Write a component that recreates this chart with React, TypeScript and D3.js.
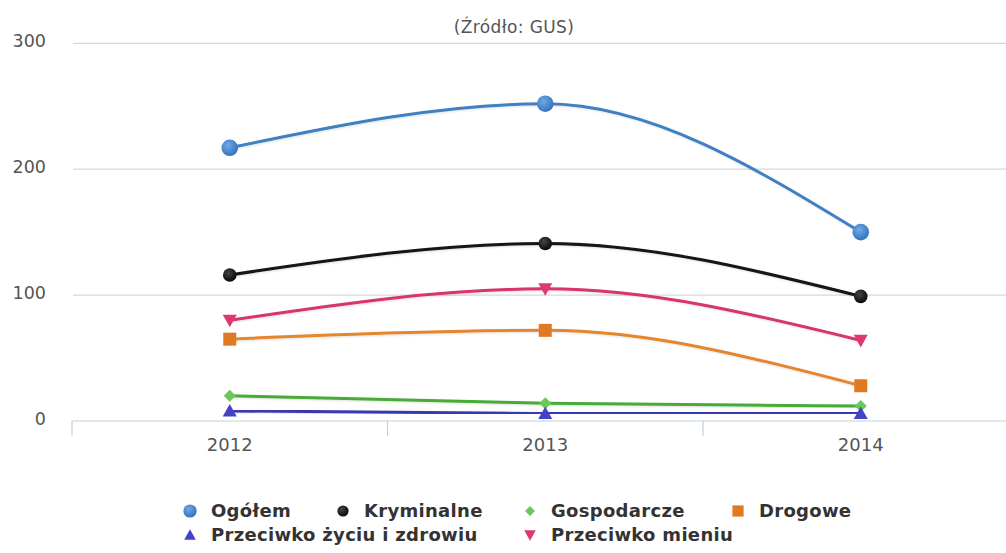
import * as d3 from 'd3'

const years = ['2012', '2013', '2014']
const ogolem = [217, 252, 150]
const kryminalne = [116, 141, 99]
const gospodarcze = [20, 14, 12]
const drogowe = [65, 72, 28]
const zyciu = [8, 6, 6]
const mieniu = [80, 105, 64]
const yTicks = [0, 100, 200, 300]

const seriesNames = [
  'Ogółem',
  'Kryminalne',
  'Gospodarcze',
  'Drogowe',
  'Przeciwko życiu i zdrowiu',
  'Przeciwko mieniu',
]

type Shape = 'circle' | 'diamond' | 'square' | 'triangle' | 'triangle-down'

const series = [
  { name: seriesNames[0], values: ogolem, line: '#3f80c2', fill: 'url(#gBlue)', shape: 'circle' as Shape, size: 8.3 },
  { name: seriesNames[1], values: kryminalne, line: '#141414', fill: 'url(#gBlack)', shape: 'circle' as Shape, size: 6.8 },
  { name: seriesNames[2], values: gospodarcze, line: '#46ab36', fill: '#6cc85a', shape: 'diamond' as Shape, size: 6 },
  { name: seriesNames[3], values: drogowe, line: '#e5862f', fill: '#e07a22', shape: 'square' as Shape, size: 6.5 },
  { name: seriesNames[4], values: zyciu, line: '#3838b2', fill: '#4343c6', shape: 'triangle' as Shape, size: 7 },
  { name: seriesNames[5], values: mieniu, line: '#d8346a', fill: '#dc3a6c', shape: 'triangle-down' as Shape, size: 7 },
]

const markerPath = (shape: Shape, r: number) => {
  if (shape === 'diamond') return `M0,${-r}L${r},0L0,${r}L${-r},0Z`
  if (shape === 'square') return `M${-r},${-r}H${r}V${r}H${-r}Z`
  if (shape === 'triangle') return `M0,${-r}L${r},${r * 0.8}L${-r},${r * 0.8}Z`
  if (shape === 'triangle-down') return `M0,${r}L${r},${-r * 0.8}L${-r},${-r * 0.8}Z`
  return ''
}

const Marker = ({ shape, r, fill }: { shape: Shape; r: number; fill: string }) =>
  shape === 'circle' ? <circle r={r} fill={fill} /> : <path d={markerPath(shape, r)} fill={fill} />

export default function App() {
  const width = 1006
  const height = 553
  const left = 72
  const band = 315.5

  const x = d3.scaleBand().domain(years).range([left, left + band * years.length])
  const y = d3.scaleLinear().domain([0, 300]).range([421, 43.3])
  const cx = (d: string) => (x(d) ?? 0) + x.bandwidth() / 2

  const line = d3
    .line<number>()
    .x((_, i) => cx(years[i]))
    .y((d) => y(d))
    .curve(d3.curveMonotoneX)

  const tickXs = [...years.map((d) => x(d) ?? 0), left + band * years.length]

  // legend layout
  const legendCols = [190, 343, 530, 738]
  const legendRows = [511, 535]
  const legendPos = [
    [0, 0],
    [1, 0],
    [2, 0],
    [3, 0],
    [0, 1],
    [2, 1],
  ]
  const legendSize = [6.6, 5.6, 5, 5.6, 5.8, 5.8]

  return (
    <svg
      width={width}
      height={height}
      style={{ position: 'absolute', top: 0, left: 0, background: '#fff' }}
      fontFamily="'DejaVu Sans', sans-serif"
    >
      <defs>
        <radialGradient id="gBlue" cx="0.4" cy="0.35" r="0.65">
          <stop offset="0" stopColor="#6fa9e6" />
          <stop offset="1" stopColor="#3474bd" />
        </radialGradient>
        <radialGradient id="gBlack" cx="0.4" cy="0.35" r="0.65">
          <stop offset="0" stopColor="#444" />
          <stop offset="1" stopColor="#0a0a0a" />
        </radialGradient>
        <filter id="shadow" x="-5%" y="-20%" width="110%" height="140%">
          <feDropShadow dx="1" dy="1" stdDeviation="1" floodColor="#000" floodOpacity="0.12" />
        </filter>
      </defs>

      <text x={514} y={33} textAnchor="middle" fontSize={17} fill="#555" letterSpacing={0.4}>
        (Źródło: GUS)
      </text>

      {/* grid */}
      {yTicks.map((t) => (
        <g key={t}>
          {t > 0 && <line x1={73} x2={width} y1={y(t)} y2={y(t)} stroke="#d8d8d8" strokeWidth={1.2} />}
          <text x={46} y={y(t) + 4} textAnchor="end" fontSize={17.5} fill="#555">
            {t}
          </text>
        </g>
      ))}

      {/* x axis */}
      <line x1={left} x2={width} y1={y(0)} y2={y(0)} stroke="#c0d0e0" strokeWidth={1.2} />
      {tickXs.map((t, i) => (
        <line key={i} x1={t} x2={t} y1={y(0)} y2={y(0) + 15} stroke="#c0d0e0" strokeWidth={1.2} />
      ))}
      {years.map((d) => (
        <text key={d} x={cx(d)} y={451} textAnchor="middle" fontSize={18} fill="#555">
          {d}
        </text>
      ))}

      {/* series */}
      {series.map((s) => (
        <g key={s.name}>
          <path
            d={line(s.values) ?? ''}
            fill="none"
            stroke={s.line}
            strokeWidth={3}
            strokeLinejoin="round"
            filter="url(#shadow)"
          />
          {s.values.map((v, i) => (
            <g key={i} transform={`translate(${cx(years[i])},${y(v)})`}>
              <Marker shape={s.shape} r={s.size} fill={s.fill} />
            </g>
          ))}
        </g>
      ))}

      {/* legend */}
      {series.map((s, i) => {
        const [c, r] = legendPos[i]
        return (
          <g key={s.name} transform={`translate(${legendCols[c]},${legendRows[r]})`}>
            <Marker shape={s.shape} r={legendSize[i]} fill={s.fill} />
            <text x={21} y={6} fontSize={18} fontWeight="bold" fill="#333" letterSpacing={0.3}>
              {s.name}
            </text>
          </g>
        )
      })}
    </svg>
  )
}
